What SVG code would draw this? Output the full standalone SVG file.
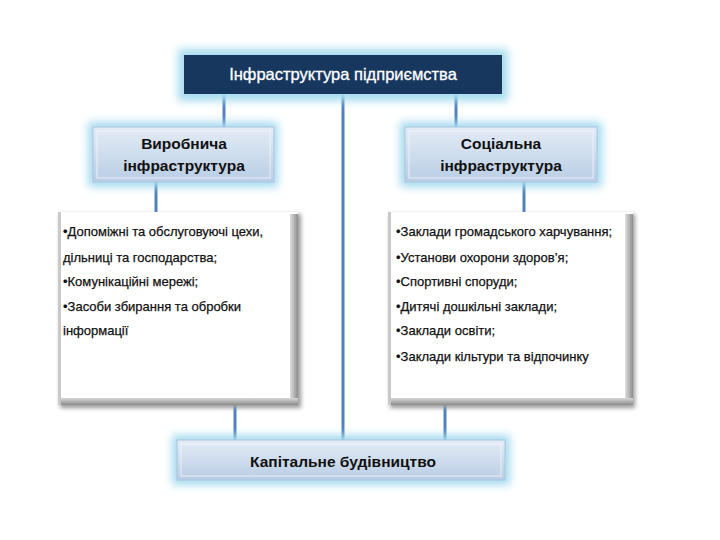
<svg xmlns="http://www.w3.org/2000/svg" width="720" height="540" viewBox="0 0 720 540">
<defs>
<filter id="glow" x="-20%" y="-40%" width="140%" height="180%"><feGaussianBlur stdDeviation="4"/></filter>
<filter id="sh" x="-10%" y="-10%" width="130%" height="130%"><feGaussianBlur stdDeviation="2"/></filter>
<linearGradient id="lb" x1="0" y1="0" x2="0" y2="1"><stop offset="0" stop-color="#e4ecf6"/><stop offset="1" stop-color="#b9cde5"/></linearGradient>
<linearGradient id="rs" x1="0" y1="0" x2="1" y2="0"><stop offset="0" stop-color="#e0e0e0"/><stop offset="1" stop-color="#8c8c8c"/></linearGradient>
<linearGradient id="bs" x1="0" y1="0" x2="0" y2="1"><stop offset="0" stop-color="#d8d8d8"/><stop offset="1" stop-color="#8c8c8c"/></linearGradient>
</defs>
<style>
.ln{stroke:#4f81bd;stroke-width:3;fill:none}
.gl{fill:#a6dcef;filter:url(#glow)}
.hd{font-family:"Liberation Sans",Arial,sans-serif;font-size:15.5px;fill:#111;text-anchor:middle;font-weight:bold}
.tx{font-family:"Liberation Sans",Arial,sans-serif;font-size:13px;fill:#111;stroke:#111;stroke-width:0.25}
</style>
<rect width="720" height="540" fill="#fff"/>
<g id="connectors">
<line class="ln" x1="343" y1="94" x2="343" y2="440"/>
<line class="ln" x1="224" y1="94" x2="224" y2="127"/>
<line class="ln" x1="456" y1="94" x2="456" y2="127"/>
<line class="ln" x1="156" y1="182" x2="156" y2="212"/>
<line class="ln" x1="524" y1="182" x2="524" y2="212"/>
<line class="ln" x1="235" y1="405" x2="235" y2="440"/>
<line class="ln" x1="445" y1="405" x2="445" y2="440"/>
</g>
<g id="top">
<rect class="gl" x="178" y="49" width="330" height="52"/>
<rect x="184" y="55" width="318" height="39" fill="#17375e"/>
<text x="343" y="80" font-family="'Liberation Sans',Arial,sans-serif" font-size="16.5" fill="#fff" stroke="#fff" stroke-width="0.3" text-anchor="middle">Інфраструктура підприємства</text>
</g>
<g id="prod">
<rect class="gl" x="88" y="122" width="190" height="65"/>
<rect x="93" y="127" width="181" height="55" fill="url(#lb)" stroke="#a9c4e0" stroke-width="1"/>
<rect x="97" y="131" width="173" height="47" fill="none" stroke="#f2f6fb" stroke-width="1" opacity="0.8"/>
<text class="hd" x="184" y="149">Виробнича</text>
<text class="hd" x="184" y="171">інфраструктура</text>
</g>
<g id="soc">
<rect class="gl" x="400" y="122" width="202" height="65"/>
<rect x="405" y="127" width="192" height="55" fill="url(#lb)" stroke="#a9c4e0" stroke-width="1"/>
<rect x="409" y="131" width="184" height="47" fill="none" stroke="#f2f6fb" stroke-width="1" opacity="0.8"/>
<text class="hd" x="501" y="149">Соціальна</text>
<text class="hd" x="501" y="171">інфраструктура</text>
</g>
<g id="prodlist">
<rect x="60" y="214" width="241" height="194" fill="#9a9a9a" filter="url(#sh)"/>
<rect x="58" y="212" width="240" height="193" fill="#fff"/>
<rect x="290" y="214" width="8" height="191" fill="url(#rs)"/>
<rect x="60" y="398" width="238" height="7" fill="url(#bs)"/>
<rect x="58" y="212" width="3" height="193" fill="#c9c9c9"/>
<text class="tx" x="63" y="236">•Допоміжні та обслуговуючі цехи,</text>
<text class="tx" x="63" y="262">дільниці та господарства;</text>
<text class="tx" x="63" y="286">•Комунікаційні мережі;</text>
<text class="tx" x="63" y="311">•Засоби збирання та обробки</text>
<text class="tx" x="63" y="335">інформації</text>
</g>
<g id="soclist">
<rect x="390" y="214" width="245" height="194" fill="#9a9a9a" filter="url(#sh)"/>
<rect x="388" y="212" width="245" height="193" fill="#fff"/>
<rect x="625" y="214" width="8" height="191" fill="url(#rs)"/>
<rect x="390" y="398" width="243" height="7" fill="url(#bs)"/>
<rect x="388" y="212" width="3" height="193" fill="#c9c9c9"/>
<text class="tx" x="396" y="236">•Заклади громадського харчування;</text>
<text class="tx" x="396" y="262">•Установи охорони здоров’я;</text>
<text class="tx" x="396" y="286">•Спортивні споруди;</text>
<text class="tx" x="396" y="311">•Дитячі дошкільні заклади;</text>
<text class="tx" x="396" y="335">•Заклади освіти;</text>
<text class="tx" x="396" y="361">•Заклади кільтури та відпочинку</text>
</g>
<g id="capital">
<rect class="gl" x="172" y="435" width="338" height="50"/>
<rect x="177" y="440" width="328" height="40" fill="url(#lb)" stroke="#a9c4e0" stroke-width="1"/>
<rect x="181" y="444" width="320" height="32" fill="none" stroke="#f2f6fb" stroke-width="1" opacity="0.8"/>
<text class="hd" x="343" y="467">Капітальне будівництво</text>
</g>
</svg>
